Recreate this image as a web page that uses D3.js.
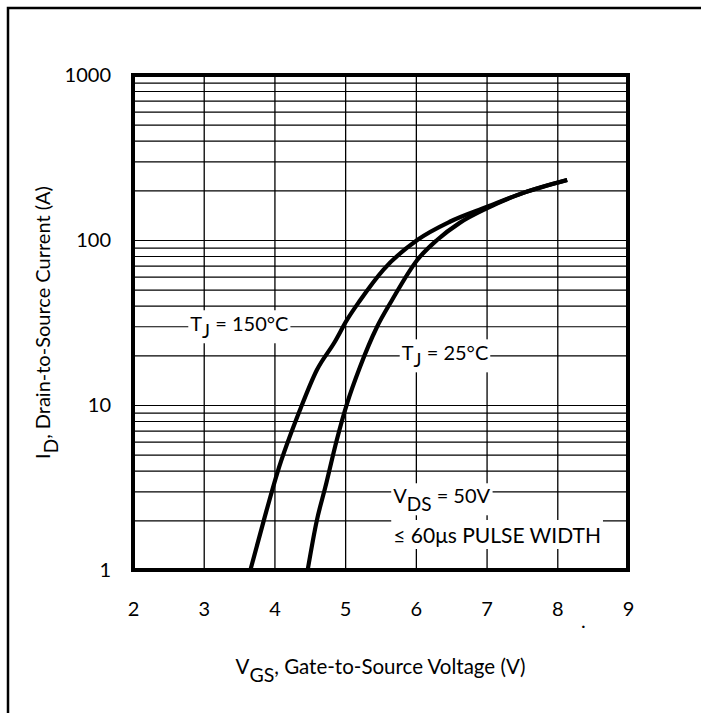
<!DOCTYPE html>
<html>
<head>
<meta charset="utf-8">
<script src="https://cdn.jsdelivr.net/npm/d3@7"></script>
<style>
  body { margin: 0; background: #fff; }
  svg text { font-family: Lato, "Noto Sans", sans-serif; fill: #000; }
</style>
</head>
<body>
<script>
// tick values
const vgsTicks = [2, 3, 4, 5, 6, 7, 8, 9];
const idDecades = [1, 10, 100, 1000];

// Tj = 150 C curve
const vgs150 = [3.66, 3.85, 4.04, 4.36, 4.60, 4.85, 5.03, 5.21, 5.54, 6.02, 6.48, 7.01, 7.52, 8.14];
const id150  = [1.0, 2.0, 3.87, 9.3, 16.3, 24, 33, 43, 66, 100, 129, 159, 193, 231];

// Tj = 25 C curve
const vgs25 = [4.47, 4.60, 4.72, 4.88, 5.03, 5.21, 5.45, 5.66, 6.02, 6.30, 6.62, 7.01, 7.52, 8.14];
const id25  = [1.0, 2.0, 3.18, 6.1, 10.3, 17, 29.7, 43, 75.7, 100, 127, 156, 193, 231];

const W = 701, H = 713;
const plotLeft = 133, plotTop = 75, size = 495;

const svg = d3.select('body').append('svg')
  .attr('width', W)
  .attr('height', H);

// outer frame
svg.append('rect')
  .attr('x', 8).attr('y', 8)
  .attr('width', 900).attr('height', 900)
  .attr('fill', 'none')
  .attr('stroke', '#000')
  .attr('stroke-width', 2.5);

const x = d3.scaleLinear().domain([2, 9]).range([plotLeft, plotLeft + size]);
const y = d3.scaleLog().domain([1, 1000]).range([plotTop + size, plotTop]);

// every minor log value for the grid
const idGrid = [];
idDecades.slice(0, 3).forEach((d) => {
  for (let k = 1; k <= 9; k++) idGrid.push(d * k);
});
idGrid.push(1000);

const g = svg.append('g');

const xAxis = d3.axisBottom(x)
  .tickValues(vgsTicks)
  .tickSize(-size)
  .tickPadding(32)
  .tickFormat(d3.format('d'));

g.append('g')
  .attr('transform', `translate(0, ${plotTop + size})`)
  .call(xAxis)
  .call((a) => a.select('.domain').remove())
  .call((a) => a.selectAll('line').attr('stroke', '#000').attr('stroke-width', 1.3))
  .call((a) => a.selectAll('text').attr('font-size', 20));

const yAxis = d3.axisLeft(y)
  .tickValues(idGrid)
  .tickSize(-size)
  .tickPadding(22)
  .tickFormat((d) => idDecades.includes(d) ? String(d) : '');

g.append('g')
  .attr('transform', `translate(${plotLeft}, 0)`)
  .call(yAxis)
  .call((a) => a.select('.domain').remove())
  .call((a) => a.selectAll('line').attr('stroke', '#000').attr('stroke-width', 1.2))
  .call((a) => a.selectAll('text').attr('font-size', 20));

// labels with white backgrounds
function label(tx, ty, parts, pad, fs) {
  fs = fs || 20;
  const grp = svg.append('g');
  const bg = grp.append('rect').attr('fill', '#fff');
  const t = grp.append('text')
    .attr('x', tx).attr('y', ty)
    .attr('font-size', fs);
  parts.forEach((p) => {
    t.append('tspan')
      .attr('dy', p.dy || 0)
      .attr('font-size', p.sub ? fs - 1 : fs)
      .text(p.text);
  });
  const b = t.node().getBBox();
  bg.attr('x', b.x - pad[0]).attr('y', b.y - pad[1])
    .attr('width', b.width + 2 * pad[0]).attr('height', b.height + 2 * pad[1]);
}

label(x(2.81), y(30) + 5, [
  { text: 'T' }, { text: 'J', sub: true, dy: 7 }, { text: ' = 150°C', dy: -7 }
], [2, 1]);

label(x(5.80), y(20) + 5, [
  { text: 'T' }, { text: 'J', sub: true, dy: 7 }, { text: ' = 25°C', dy: -7 }
], [2, 1]);

label(x(5.68), y(3) + 12, [
  { text: 'V' }, { text: 'DS', sub: true, dy: 8 }, { text: ' = 50V', dy: -8 }
], [2, 0]);

label(x(5.68), 543, [
  { text: '≤ 60μs PULSE WIDTH' }
], [2, 2], 21);

// curves
const line = d3.line()
  .x((d) => x(d[0]))
  .y((d) => y(d[1]))
  .curve(d3.curveMonotoneX);

const curves = [
  d3.zip(vgs150, id150),
  d3.zip(vgs25, id25)
];

svg.selectAll('path.curve')
  .data(curves)
  .enter()
  .append('path')
  .attr('class', 'curve')
  .attr('d', line)
  .attr('fill', 'none')
  .attr('stroke', '#000')
  .attr('stroke-width', 4.2)
  .attr('stroke-linejoin', 'round');

// plot border
svg.append('rect')
  .attr('x', plotLeft).attr('y', plotTop)
  .attr('width', size).attr('height', size)
  .attr('fill', 'none')
  .attr('stroke', '#000')
  .attr('stroke-width', 4);

// axis titles
const xt = svg.append('text')
  .attr('x', plotLeft + size / 2)
  .attr('y', 674)
  .attr('text-anchor', 'middle')
  .attr('font-size', 20.5);
xt.append('tspan').text('V');
xt.append('tspan').attr('dy', 8).attr('font-size', 19.5).text('GS');
xt.append('tspan').attr('dy', -8).text(', Gate-to-Source Voltage (V)');

const yt = svg.append('text')
  .attr('transform', `translate(50, ${plotTop + size / 2}) rotate(-90)`)
  .attr('text-anchor', 'middle')
  .attr('font-size', 20);
yt.append('tspan').text('I');
yt.append('tspan').attr('dy', 8).attr('font-size', 19).text('D');
yt.append('tspan').attr('dy', -8).text(', Drain-to-Source Current (A)');

// stray dot below the axis
svg.append('text')
  .attr('x', 581).attr('y', 628)
  .attr('font-size', 20)
  .text('.');
</script>
</body>
</html>
